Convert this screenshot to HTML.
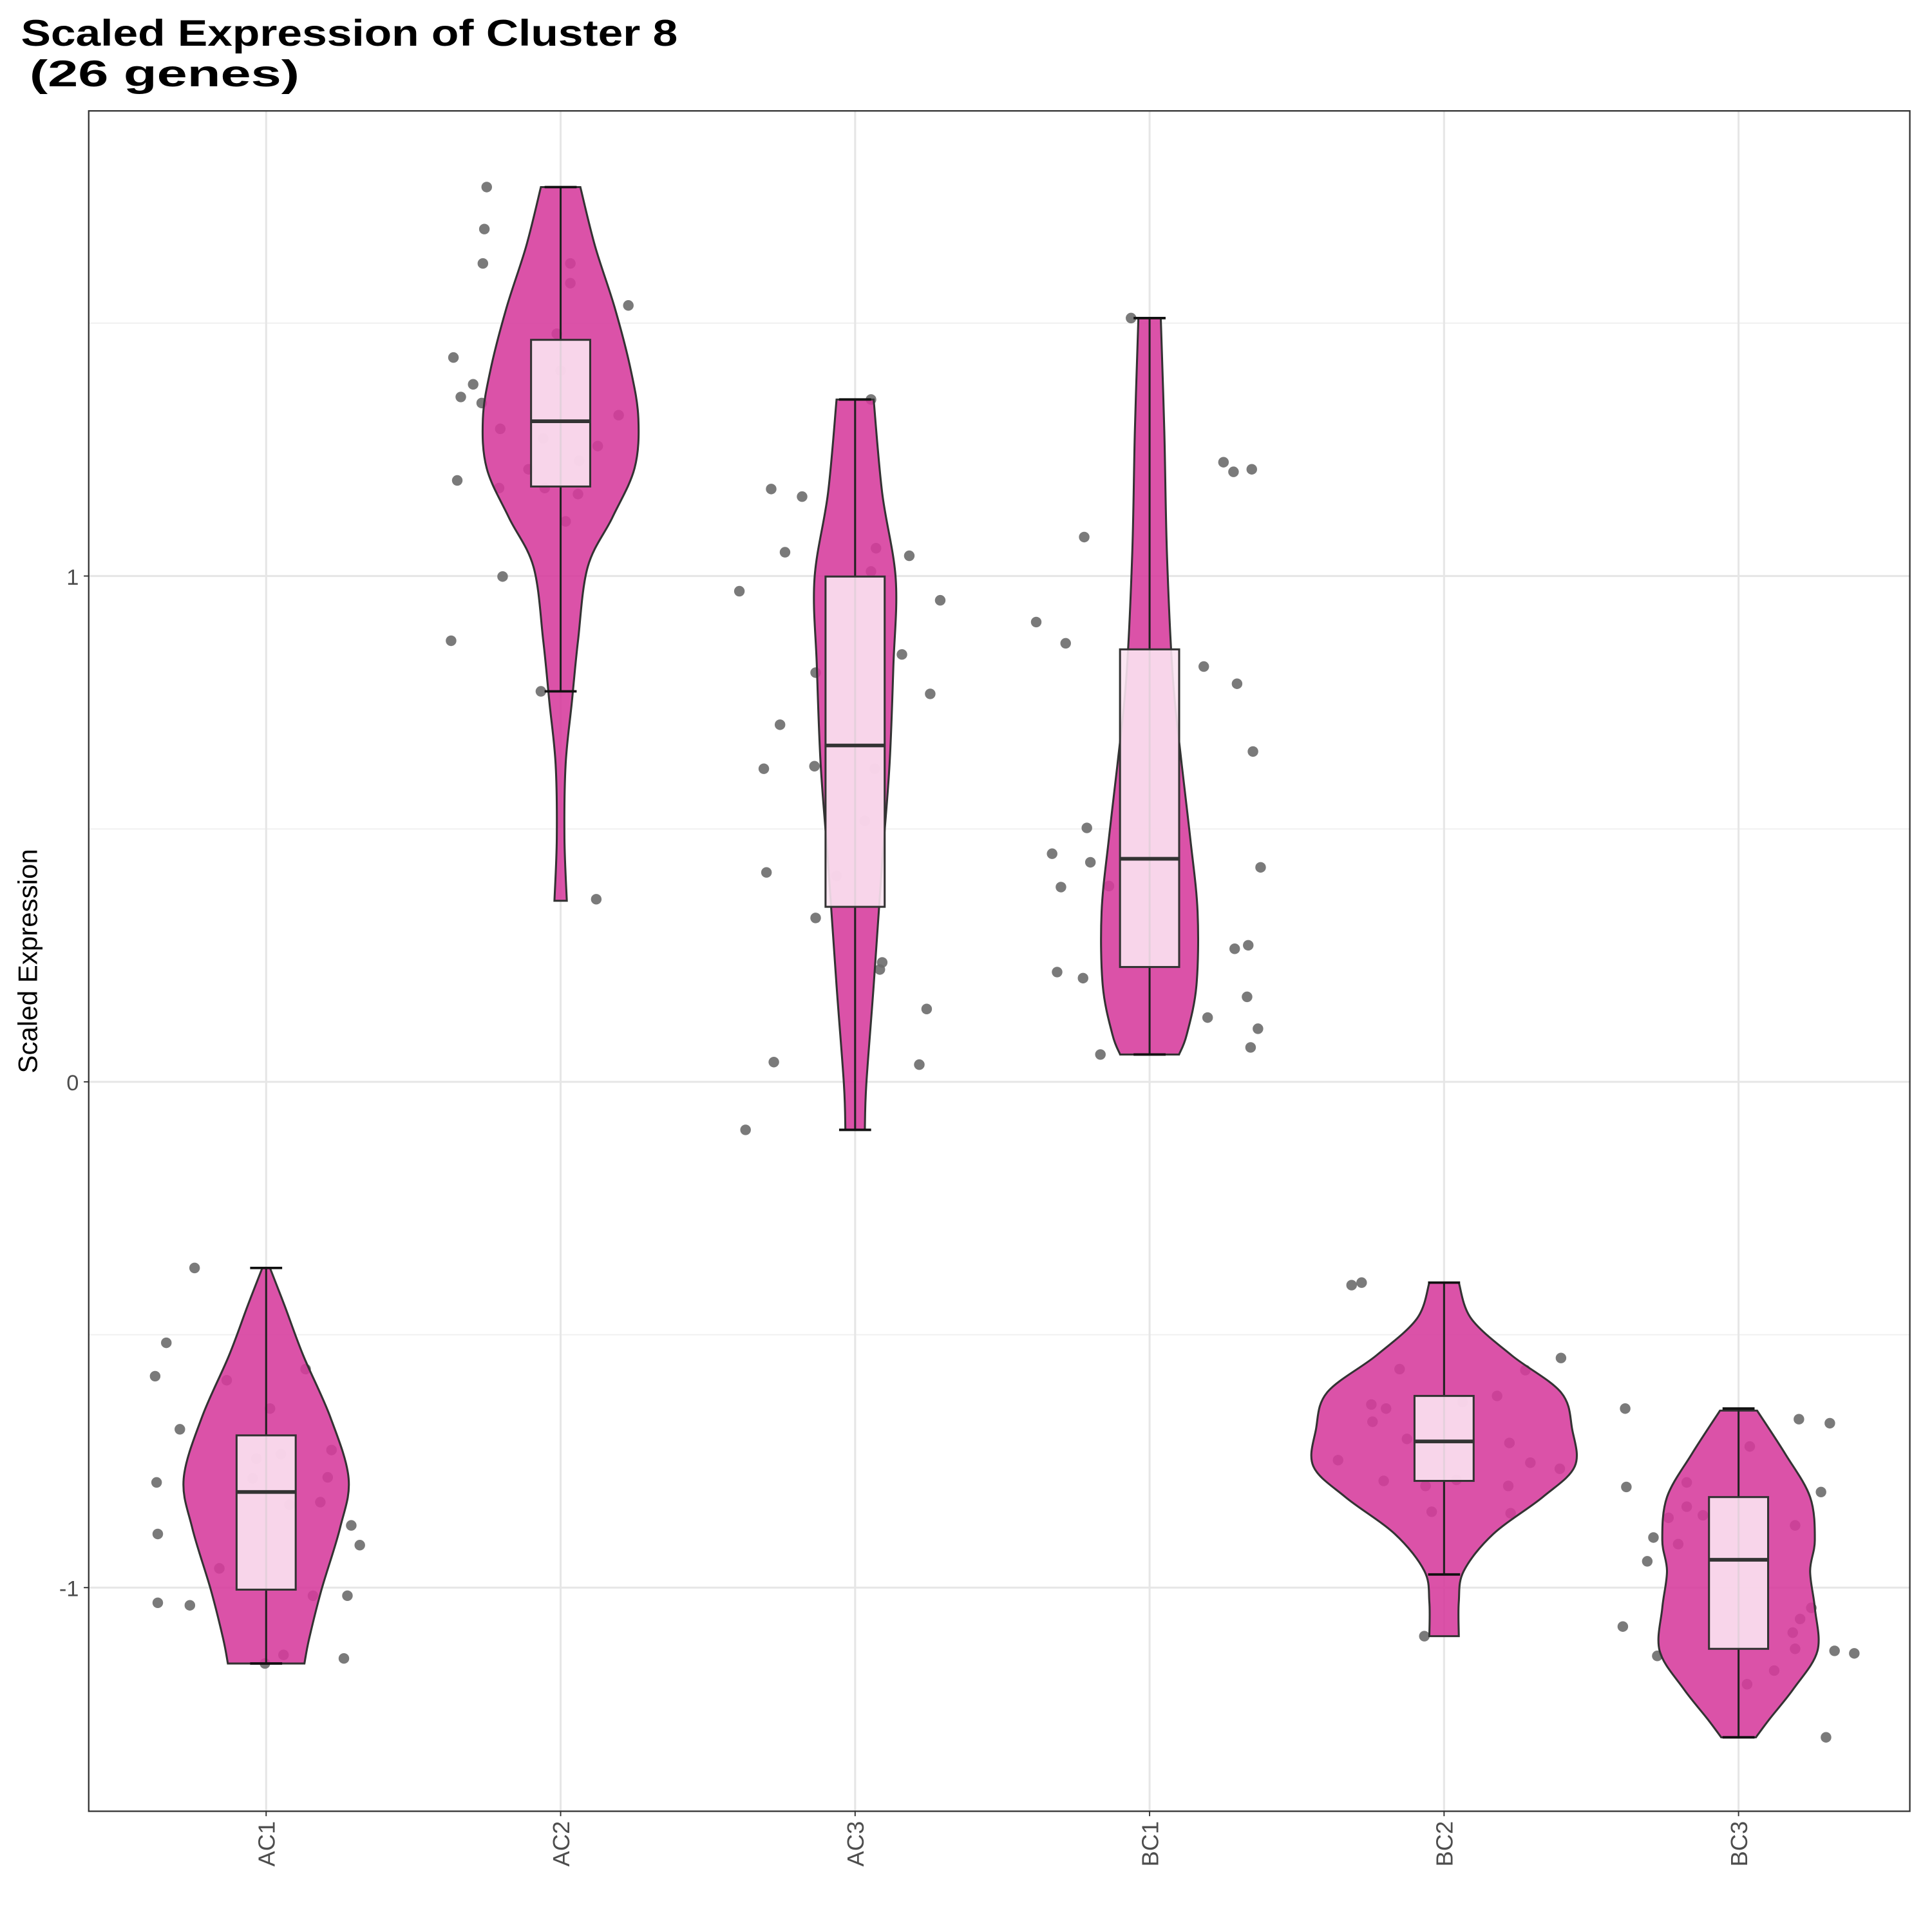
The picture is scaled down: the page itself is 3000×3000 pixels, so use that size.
<!DOCTYPE html>
<html><head><meta charset="utf-8"><style>
html,body{margin:0;padding:0;background:#fff}
svg{display:block}
text{font-family:"Liberation Sans",Arial,sans-serif}
</style></head><body>
<svg id="chart" width="3000" height="3000" viewBox="0 0 1568 1568" xmlns="http://www.w3.org/2000/svg">
<text x="17" y="37" font-size="30" font-weight="bold" textLength="533" lengthAdjust="spacingAndGlyphs">Scaled Expression of Cluster 8</text>
<text x="24" y="70" font-size="30" font-weight="bold" textLength="219" lengthAdjust="spacingAndGlyphs">(26 genes)</text>
<text transform="translate(30,780) rotate(-90)" text-anchor="middle" font-size="22">Scaled Expression</text>
<g id="grid"></g>
<g id="marks"></g>
<rect x="72" y="90" width="1478" height="1380" fill="none" stroke="#333" stroke-width="1.2"/>
<g id="axes"></g>
</svg>
<script>
const categories = ["AC1","AC2","AC3","BC1","BC2","BC3"];
const yTicks = [-1, 0, 1];
const yTickLabels = ["-1","0","1"];
const yMinorTicks = [-0.5, 0.5, 1.5];
// box stats: q1, median, q3, whisker low, whisker high
const q1 = [-1.004, 1.177, 0.346, 0.227, -0.789, -1.121];
const medians = [-0.811, 1.306, 0.665, 0.441, -0.711, -0.945];
const q3 = [-0.699, 1.467, 0.999, 0.855, -0.621, -0.821];
const whiskerLow = [-1.150, 0.772, -0.095, 0.054, -0.974, -1.296];
const whiskerHigh = [-0.368, 1.769, 1.349, 1.510, -0.397, -0.646];
// violin density profiles: value levels and half widths (category units)
const violinLevels = [
 [-0.368,-0.443,-0.541,-0.663,-0.784,-0.882,-1.004,-1.101,-1.150],
 [1.769,1.652,1.530,1.408,1.311,1.213,1.116,1.018,0.872,0.750,0.628,0.482,0.358],
 [1.349,1.164,0.994,0.823,0.628,0.434,0.190,-0.005,-0.095],
 [1.510,1.286,1.043,0.799,0.628,0.482,0.336,0.190,0.093,0.054],
 [-0.397,-0.468,-0.541,-0.614,-0.687,-0.760,-0.821,-0.894,-0.967,-1.028,-1.096],
 [-0.650,-0.736,-0.821,-0.906,-0.967,-1.040,-1.125,-1.199,-1.260,-1.296]
];
const violinDensity = [
 [0.013,0.063,0.126,0.218,0.280,0.251,0.188,0.146,0.130],
 [0.067,0.117,0.184,0.238,0.264,0.251,0.176,0.092,0.059,0.038,0.017,0.013,0.021],
 [0.063,0.092,0.138,0.130,0.117,0.092,0.063,0.038,0.033],
 [0.038,0.050,0.059,0.079,0.109,0.138,0.163,0.159,0.126,0.100],
 [0.050,0.092,0.230,0.397,0.435,0.444,0.335,0.167,0.067,0.050,0.050],
 [0.063,0.159,0.243,0.259,0.243,0.259,0.268,0.188,0.105,0.059]
];
// gene points
const pointValues = [
 [-0.368,-0.516,-0.582,-0.590,-0.687,-0.568,-0.646,-0.728,-0.792,-0.782,-0.736,-0.745,-0.784,-0.836,-0.831,-0.877,-0.894,-0.916,-0.962,-1.016,-1.016,-1.030,-1.035,-1.133,-1.140,-1.150],
 [1.769,1.686,1.618,1.618,1.579,1.535,1.479,1.432,1.379,1.354,1.342,1.406,1.318,1.291,1.257,1.228,1.272,1.189,1.211,1.174,1.174,1.162,1.108,0.999,0.872,0.772,0.361],
 [1.349,1.172,1.157,1.055,1.047,1.040,1.009,0.970,0.952,0.845,0.809,0.767,0.706,0.619,0.624,0.619,0.516,0.407,0.414,0.324,0.236,0.222,0.144,0.039,0.034,-0.095],
 [1.510,1.225,1.206,1.211,1.077,0.909,0.867,0.821,0.787,0.653,0.502,0.451,0.434,0.385,0.387,0.424,0.270,0.263,0.217,0.205,0.168,0.127,0.105,0.054,0.068],
 [-0.402,-0.397,-0.546,-0.568,-0.570,-0.621,-0.638,-0.646,-0.633,-0.672,-0.706,-0.714,-0.748,-0.753,-0.765,-0.789,-0.799,-0.787,-0.799,-0.850,-0.853,-1.096],
 [-0.646,-0.667,-0.675,-0.721,-0.801,-0.792,-0.811,-0.840,-0.857,-0.862,-0.877,-0.901,-0.914,-0.948,-1.040,-1.062,-1.089,-1.077,-1.135,-1.121,-1.125,-1.130,-1.164,-1.191,-1.296]
];
const pointJitter = [
 [-0.243,-0.339,-0.377,-0.134,-0.293,0.134,0.013,0.222,-0.372,0.209,0.05,-0.033,-0.046,0.079,0.184,0.289,-0.368,0.318,-0.159,0.159,0.276,-0.368,-0.259,0.059,0.264,-0.004],
 [-0.251,-0.259,-0.264,0.033,0.033,0.230,-0.013,-0.364,-0.297,-0.339,-0.268,0,0.197,-0.205,0.126,0.063,-0.059,-0.351,-0.109,-0.209,-0.054,0.059,0.017,-0.197,-0.372,-0.067,0.121],
 [0.054,-0.285,-0.180,0.071,-0.238,0.184,0.054,-0.393,0.289,0.159,-0.134,0.255,-0.255,-0.310,-0.138,0.067,0.033,-0.063,-0.301,-0.134,0.092,0.084,0.243,-0.276,0.218,-0.372],
 [-0.063,0.251,0.285,0.347,-0.222,-0.385,-0.285,0.184,0.297,0.351,-0.213,-0.331,-0.201,-0.301,-0.138,0.377,0.335,0.289,-0.314,-0.226,0.331,0.197,0.368,-0.167,0.343],
 [-0.314,-0.280,0.397,-0.151,0.276,0.180,-0.247,-0.197,0.063,-0.243,-0.126,0.222,-0.360,0.293,0.393,-0.205,-0.063,0.042,0.218,-0.042,0.226,-0.067],
 [-0.385,0.205,0.310,0.038,-0.381,-0.176,0.280,-0.176,-0.121,-0.238,0.192,-0.289,-0.205,-0.310,0.247,0.209,0.184,-0.393,-0.276,0.192,0.326,0.393,0.121,0.029,0.297]
];

const NS = "http://www.w3.org/2000/svg";
const P = {l:72, r:1550, t:90, b:1470};
const yScale = v => 878 - v * 410.5;
const xScale = i => 216 + i * 239;
const catW = 239;
function mk(tag, attrs, parent){
  const e = document.createElementNS(NS, tag);
  for (const k in attrs) e.setAttribute(k, attrs[k]);
  parent.appendChild(e); return e;
}
const grid = document.getElementById('grid');
const marks = document.getElementById('marks');
const axes = document.getElementById('axes');

yMinorTicks.forEach(v => {
  const l = mk('line', {x1:P.l, x2:P.r, y1:yScale(v), y2:yScale(v), stroke:'#f0f0f0', 'stroke-width':1}, grid);
  
  
});
yTicks.forEach((v, i) => {
  const l = mk('line', {x1:P.l, x2:P.r, y1:yScale(v), y2:yScale(v), stroke:'#e6e6e6', 'stroke-width':1.6}, grid);
  
  
  const tk = mk('line', {x1:P.l-4, x2:P.l, y1:yScale(v), y2:yScale(v), stroke:'#333', 'stroke-width':1}, axes);
  
  
  const t = mk('text', {x:P.l-8, y:yScale(v)+7, 'text-anchor':'end', 'font-size':18, fill:'#4d4d4d'}, axes);
  t.textContent = yTickLabels[i];
  
  
});
categories.forEach((c, i) => {
  const l = mk('line', {x1:xScale(i), x2:xScale(i), y1:P.t, y2:P.b, stroke:'#e6e6e6', 'stroke-width':1.6}, grid);
  
  
  const tk = mk('line', {x1:xScale(i), x2:xScale(i), y1:P.b, y2:P.b+4, stroke:'#333', 'stroke-width':1}, axes);
  
  
  const t = mk('text', {transform:`translate(${xScale(i)+7},${P.b+8}) rotate(-90)`, 'text-anchor':'end', 'font-size':19, fill:'#4d4d4d'}, axes);
  t.textContent = c;
  
  
});

function smoothPath(pts){
  let d = `M${pts[0][0]},${pts[0][1]}`;
  for (let k = 0; k < pts.length-1; k++){
    const p0 = pts[Math.max(k-1,0)], p1 = pts[k], p2 = pts[k+1], p3 = pts[Math.min(k+2,pts.length-1)];
    const c1 = [p1[0]+(p2[0]-p0[0])/6, p1[1]+(p2[1]-p0[1])/6];
    const c2 = [p2[0]-(p3[0]-p1[0])/6, p2[1]-(p3[1]-p1[1])/6];
    d += ` C${c1[0]},${c1[1]} ${c2[0]},${c2[1]} ${p2[0]},${p2[1]}`;
  }
  return d;
}

categories.forEach((c, i) => {
  const cx = xScale(i);
  const g = mk('g', {}, marks);
  
  
  pointValues[i].forEach((v, k) => {
    const p = mk('circle', {cx: cx + pointJitter[i][k]*catW, cy: yScale(v), r: 4.3, fill:'#6b6b6b', 'fill-opacity':0.9}, g);
    
    
  });
  const lv = violinLevels[i], dn = violinDensity[i];
  const right = lv.map((v, k) => [cx + dn[k]*catW, yScale(v)]);
  const left = lv.map((v, k) => [cx - dn[k]*catW, yScale(v)]).reverse();
  let d = smoothPath(right);
  d += ` L${left[0][0]},${left[0][1]} ` + smoothPath(left).replace(/^M[^C]*/, '') + ' Z';
  const vp = mk('path', {d, fill:'#d63a9c', 'fill-opacity':0.88, stroke:'#333', 'stroke-width':1.6}, g);
  
  
  const wl = mk('line', {x1:cx, x2:cx, y1:yScale(whiskerHigh[i]), y2:yScale(whiskerLow[i]), stroke:'#222', 'stroke-width':1.6}, g);
  
  
  [whiskerHigh[i], whiskerLow[i]].forEach(v => {
    const cap = mk('line', {x1:cx-13, x2:cx+13, y1:yScale(v), y2:yScale(v), stroke:'#111', 'stroke-width':2}, g);
    
    
  });
  const bx = mk('rect', {x:cx-24, y:yScale(q3[i]), width:48, height:yScale(q1[i])-yScale(q3[i]), fill:'#fbe3f1', 'fill-opacity':0.9, stroke:'#333', 'stroke-width':1.6}, g);
  
  
  const md = mk('line', {x1:cx-24, x2:cx+24, y1:yScale(medians[i]), y2:yScale(medians[i]), stroke:'#333', 'stroke-width':3}, g);
  
  
});
</script>
</body></html>
